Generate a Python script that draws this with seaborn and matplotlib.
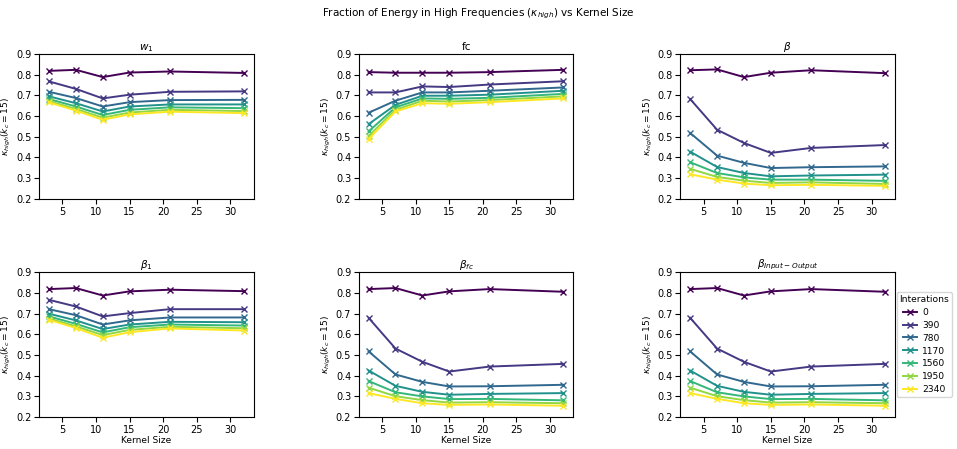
import numpy as np
import pandas as pd
import seaborn as sns
import matplotlib.pyplot as plt

# kernel sizes and training iterations
kernel_sizes = [3, 7, 11, 15, 21, 32]
iterations = [0, 390, 780, 1170, 1560, 1950, 2340]

# kappa_high values, one row per iteration count
w1_vals = [
    [0.818, 0.823, 0.788, 0.810, 0.815, 0.808],
    [0.767, 0.731, 0.685, 0.703, 0.717, 0.719],
    [0.717, 0.687, 0.646, 0.667, 0.677, 0.678],
    [0.695, 0.662, 0.622, 0.646, 0.656, 0.656],
    [0.682, 0.646, 0.605, 0.630, 0.642, 0.638],
    [0.672, 0.634, 0.592, 0.617, 0.630, 0.624],
    [0.666, 0.626, 0.582, 0.608, 0.621, 0.614],
]
fc_vals = [
    [0.812, 0.809, 0.809, 0.809, 0.812, 0.823],
    [0.714, 0.714, 0.743, 0.740, 0.752, 0.768],
    [0.616, 0.674, 0.714, 0.714, 0.722, 0.738],
    [0.561, 0.654, 0.698, 0.698, 0.703, 0.722],
    [0.526, 0.642, 0.685, 0.683, 0.688, 0.707],
    [0.504, 0.630, 0.674, 0.670, 0.677, 0.695],
    [0.489, 0.622, 0.662, 0.659, 0.667, 0.685],
]
beta_vals = [
    [0.821, 0.825, 0.788, 0.809, 0.821, 0.807],
    [0.682, 0.534, 0.470, 0.422, 0.446, 0.460],
    [0.518, 0.409, 0.374, 0.349, 0.353, 0.357],
    [0.428, 0.354, 0.325, 0.309, 0.313, 0.317],
    [0.377, 0.325, 0.304, 0.293, 0.293, 0.287],
    [0.345, 0.306, 0.288, 0.277, 0.280, 0.272],
    [0.319, 0.293, 0.274, 0.266, 0.268, 0.263],
]
beta1_vals = [
    [0.818, 0.823, 0.787, 0.807, 0.815, 0.808],
    [0.766, 0.734, 0.686, 0.702, 0.721, 0.721],
    [0.721, 0.692, 0.647, 0.667, 0.681, 0.681],
    [0.699, 0.667, 0.625, 0.647, 0.660, 0.658],
    [0.686, 0.650, 0.609, 0.634, 0.647, 0.642],
    [0.676, 0.638, 0.596, 0.621, 0.636, 0.629],
    [0.670, 0.630, 0.583, 0.610, 0.628, 0.618],
]
beta_fc_vals = [
    [0.818, 0.823, 0.787, 0.807, 0.818, 0.805],
    [0.679, 0.531, 0.467, 0.420, 0.444, 0.457],
    [0.517, 0.406, 0.370, 0.348, 0.349, 0.356],
    [0.425, 0.351, 0.322, 0.308, 0.312, 0.316],
    [0.374, 0.320, 0.300, 0.287, 0.288, 0.281],
    [0.342, 0.301, 0.282, 0.270, 0.272, 0.267],
    [0.316, 0.288, 0.267, 0.259, 0.261, 0.255],
]
beta_io_vals = [
    [0.818, 0.823, 0.787, 0.807, 0.818, 0.805],
    [0.679, 0.531, 0.467, 0.420, 0.444, 0.457],
    [0.517, 0.406, 0.370, 0.348, 0.349, 0.356],
    [0.425, 0.351, 0.322, 0.308, 0.312, 0.316],
    [0.374, 0.320, 0.300, 0.287, 0.288, 0.281],
    [0.342, 0.301, 0.282, 0.270, 0.272, 0.267],
    [0.316, 0.288, 0.267, 0.259, 0.261, 0.255],
]

panels = [
    ("$w_1$", w1_vals),
    ("fc", fc_vals),
    (r"$\beta$", beta_vals),
    (r"$\beta_1$", beta1_vals),
    (r"$\beta_{fc}$", beta_fc_vals),
    (r"$\beta_{Input-Output}$", beta_io_vals),
]


def to_frame(vals):
    rows = []
    for it, row in zip(iterations, vals):
        for k, v in zip(kernel_sizes, row):
            rows.append({"Kernel Size": k, "kappa": v, "Interations": it})
    return pd.DataFrame(rows)


plt.rcParams["font.size"] = 6.5
fig = plt.figure(figsize=(9.57, 4.49), dpi=100)

lefts = [0.041, 0.375, 0.711]
bottoms = [0.557, 0.071]
w, h = 0.224, 0.323

for i, (title, vals) in enumerate(panels):
    r, c = divmod(i, 3)
    ax = fig.add_axes([lefts[c], bottoms[r], w, h])
    df = to_frame(vals)
    last = i == len(panels) - 1
    sns.lineplot(data=df, x="Kernel Size", y="kappa", hue="Interations",
                 palette="viridis", marker="x", markeredgewidth=1,
                 markersize=5, linewidth=1.4, ax=ax,
                 legend="full" if last else False)
    # seaborn paints marker edges white; give the crosses the line colour
    for ln in ax.lines:
        ln.set_markeredgecolor(ln.get_color())
    ax.set_ylim(0.2, 0.9)
    ax.set_yticks(np.arange(0.2, 0.91, 0.1))
    ax.tick_params(labelsize=7, pad=2)
    ax.set_title(title, fontsize=7.5, pad=3)
    ax.set_ylabel(r"$\kappa_{high}(k_c = 15)$", fontsize=6.5, labelpad=2)
    if r == 1:
        ax.set_xlabel("Kernel Size", fontsize=6.5, labelpad=1)
    else:
        ax.set_xlabel("")
    if last:
        sns.move_legend(ax, "center left", bbox_to_anchor=(1.008, 0.5),
                        borderaxespad=0, title="Interations", fontsize=6.6,
                        title_fontsize=6.6, handlelength=1.6, handletextpad=0.5,
                        borderpad=0.3, labelspacing=0.42)
        for ln in ax.get_legend().get_lines():
            ln.set_markeredgecolor(ln.get_color())

fig.suptitle(r"Fraction of Energy in High Frequencies ($\kappa_{high}$) vs Kernel Size",
             fontsize=7.5, y=0.985)

fig.savefig("out.png", dpi=100)
